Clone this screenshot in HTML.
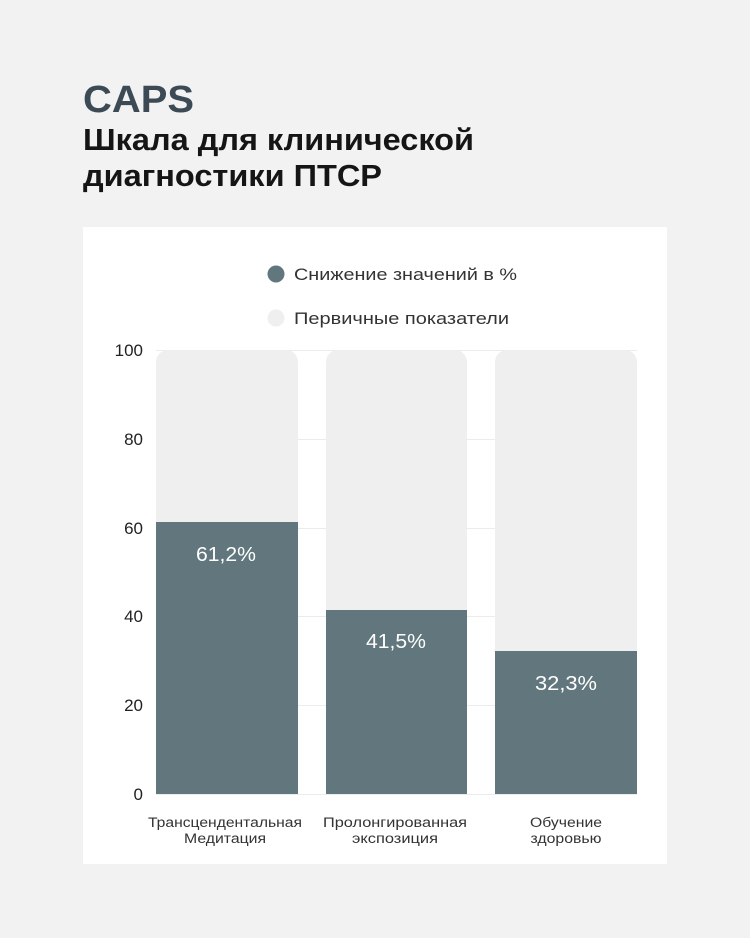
<!DOCTYPE html>
<html><head><meta charset="utf-8"><style>
html,body{margin:0;padding:0;background:#f2f2f2;}
svg{display:block;}
text{font-family:"Liberation Sans","DejaVu Sans",sans-serif;}
</style></head><body>
<svg width="750" height="938" viewBox="0 0 750 938" xmlns="http://www.w3.org/2000/svg">
<rect width="750" height="938" fill="#f2f2f2"/>
<text x="83" y="112" font-size="38" font-weight="bold" fill="#3c4a55" textLength="111" lengthAdjust="spacingAndGlyphs">CAPS</text>
<text x="83" y="150" font-size="31" font-weight="bold" fill="#151515" textLength="391" lengthAdjust="spacingAndGlyphs">Шкала для клинической</text>
<text x="83" y="186" font-size="31" font-weight="bold" fill="#151515" textLength="299" lengthAdjust="spacingAndGlyphs">диагностики ПТСР</text>
<rect x="83" y="227" width="584" height="637" fill="#ffffff"/>
<circle cx="276" cy="274" r="8.5" fill="#62777d"/>
<text x="294" y="280" font-size="16.5" fill="#333" textLength="223" lengthAdjust="spacingAndGlyphs">Снижение значений в %</text>
<circle cx="276" cy="318" r="8.5" fill="#efefef"/>
<text x="294" y="324" font-size="16.5" fill="#333" textLength="215" lengthAdjust="spacingAndGlyphs">Первичные показатели</text>
<g stroke="#ececec" stroke-width="1">
<line x1="156" y1="350.5" x2="637" y2="350.5"/>
<line x1="156" y1="439.5" x2="637" y2="439.5"/>
<line x1="156" y1="528.5" x2="637" y2="528.5"/>
<line x1="156" y1="616.5" x2="637" y2="616.5"/>
<line x1="156" y1="705.5" x2="637" y2="705.5"/>
<line x1="156" y1="794.5" x2="637" y2="794.5"/>
</g>
<g font-size="17" fill="#222" text-anchor="end">
<text x="143" y="356">100</text>
<text x="143" y="445">80</text>
<text x="143" y="534">60</text>
<text x="143" y="622">40</text>
<text x="143" y="711">20</text>
<text x="143" y="800">0</text>
</g>
<g fill="#efefef">
<path d="M156 794 V362 a12 12 0 0 1 12 -12 H286 a12 12 0 0 1 12 12 V794 Z"/>
<path d="M326 794 V362 a12 12 0 0 1 12 -12 H455 a12 12 0 0 1 12 12 V794 Z"/>
<path d="M495 794 V362 a12 12 0 0 1 12 -12 H625 a12 12 0 0 1 12 12 V794 Z"/>
</g>
<g fill="#62777d">
<rect x="156" y="522" width="142" height="272"/>
<rect x="326" y="610" width="141" height="184"/>
<rect x="495" y="651" width="142" height="143"/>
</g>
<g font-size="20" fill="#ffffff" text-anchor="middle">
<text x="226" y="561" textLength="60" lengthAdjust="spacingAndGlyphs">61,2%</text>
<text x="396" y="648" textLength="60" lengthAdjust="spacingAndGlyphs">41,5%</text>
<text x="566" y="690" textLength="62" lengthAdjust="spacingAndGlyphs">32,3%</text>
</g>
<g font-size="13.5" fill="#333" text-anchor="middle">
<text x="225" y="827" textLength="154" lengthAdjust="spacingAndGlyphs">Трансцендентальная</text>
<text x="225" y="843" textLength="82" lengthAdjust="spacingAndGlyphs">Медитация</text>
<text x="395" y="827" textLength="144" lengthAdjust="spacingAndGlyphs">Пролонгированная</text>
<text x="395" y="843" textLength="86" lengthAdjust="spacingAndGlyphs">экспозиция</text>
<text x="566" y="827" textLength="72" lengthAdjust="spacingAndGlyphs">Обучение</text>
<text x="566" y="843" textLength="71" lengthAdjust="spacingAndGlyphs">здоровью</text>
</g>
</svg>
</body></html>
